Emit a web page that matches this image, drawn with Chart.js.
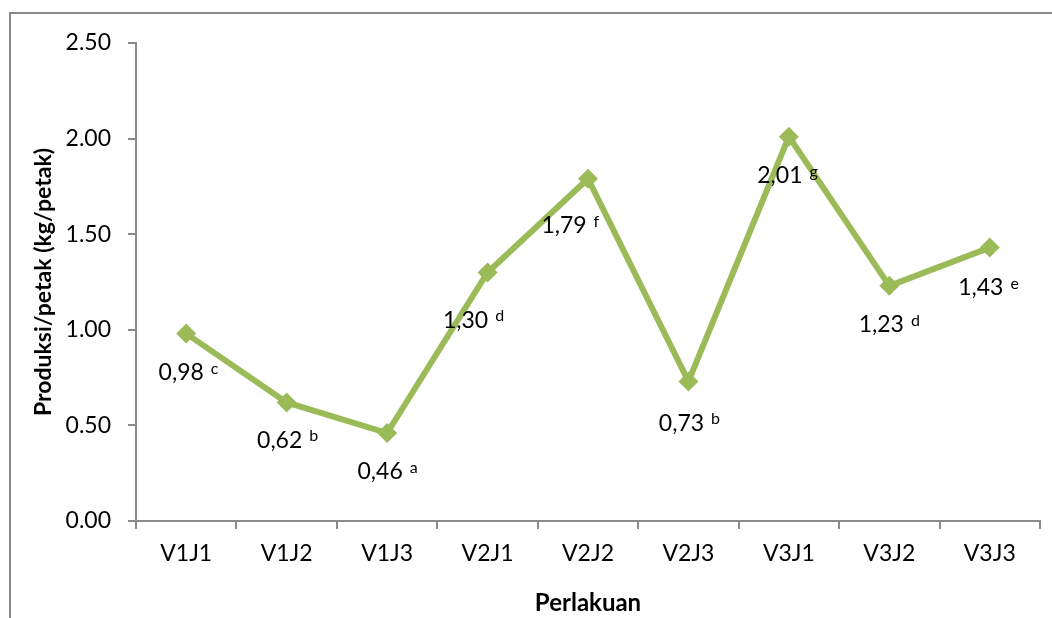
<!DOCTYPE html>
<html>
<head>
<meta charset="utf-8">
<script src="https://cdn.jsdelivr.net/npm/chart.js@4"></script>
<style>
  html, body { margin: 0; padding: 0; background: #fff; overflow: hidden; }
  #marco { position: absolute; left: 9px; top: 12px; width: 1200px; height: 800px;
           border-left: 2px solid #8a8a8a; border-top: 2px solid #8a8a8a; }
  #caja { position: absolute; left: 0; top: 0; width: 1052px; height: 618px; }
</style>
</head>
<body>
<div id="marco"></div>
<div id="caja"><canvas id="grafico"></canvas></div>
<script>
const perlakuan = ["V1J1", "V1J2", "V1J3", "V2J1", "V2J2", "V2J3", "V3J1", "V3J2", "V3J3"]
const produksi = [0.98, 0.62, 0.46, 1.30, 1.79, 0.73, 2.01, 1.23, 1.43]
const notasi = ["c", "b", "a", "d", "f", "b", "g", "d", "e"]

// donde va cada etiqueta respecto a su punto
const despX = [-5, -7, -7, -22, -24, -7, -9, -8, -9]
const despY = [39, 38, 39, 48, 47, 42, 39, 39, 40]

const fuente = "Lato, 'Open Sans', sans-serif"
const verde = "#9bbb59"
const gris = "#8a8a8a"

const etiquetas = {
    id: "etiquetas",
    afterDatasetsDraw(chart) {
        const ctx = chart.ctx
        const puntos = chart.getDatasetMeta(0).data
        ctx.save()
        ctx.fillStyle = "#000"
        puntos.forEach((p, i) => {
            let texto = produksi[i].toFixed(2).replace(".", ",")
            let x = p.x + despX[i]
            let y = p.y + despY[i]
            ctx.font = "23px " + fuente
            ctx.textAlign = "center"
            ctx.textBaseline = "middle"
            ctx.fillText(texto, x, y)
            let ancho = ctx.measureText(texto).width
            ctx.font = "16px " + fuente
            ctx.textAlign = "left"
            ctx.textBaseline = "alphabetic"
            ctx.fillText(notasi[i], x + ancho / 2 + 7, y + 1)
        })
        ctx.restore()
    }
}

let grafico = document.getElementById("grafico")

let miGrafico = new Chart(grafico, {
    type: "line",
    data: {
        labels: perlakuan,
        datasets: [{
            data: produksi,
            borderColor: verde,
            backgroundColor: verde,
            borderWidth: 6,
            pointStyle: "rectRot",
            pointRadius: 10,
            pointBorderWidth: 0,
            pointBackgroundColor: verde,
            tension: 0,
            fill: false
        }]
    },
    options: {
        responsive: true,
        maintainAspectRatio: false,
        animation: false,
        layout: { padding: { top: 43, right: 12, left: 0, bottom: 0 } },
        plugins: {
            legend: { display: false },
            tooltip: { enabled: false }
        },
        scales: {
            x: {
                offset: true,
                grid: { display: true, drawOnChartArea: false, drawTicks: true, tickLength: 8, color: gris, lineWidth: 2, offset: true },
                border: { display: true, color: gris, width: 2 },
                ticks: { color: "#000", font: { family: fuente, size: 23 }, padding: 11, maxRotation: 0 },
                title: { display: true, text: "Perlakuan", color: "#000",
                         font: { family: fuente, size: 24, weight: "bold" }, padding: { top: 7, bottom: 0 } },
                afterFit: (s) => { s.height = 97 }
            },
            y: {
                min: 0,
                max: 2.5,
                grid: { display: true, drawOnChartArea: false, drawTicks: true, tickLength: 8, color: gris, lineWidth: 2 },
                border: { display: true, color: gris, width: 2 },
                ticks: { stepSize: 0.5, color: "#000", font: { family: fuente, size: 23 }, padding: 17,
                         callback: (v) => v.toFixed(2) },
                title: { display: true, text: "Produksi/petak (kg/petak)", color: "#000",
                         font: { family: fuente, size: 23, weight: "bold" }, padding: { top: 30, bottom: 0 } },
                afterFit: (s) => { s.width = 136 }
            }
        }
    },
    plugins: [etiquetas]
})
</script>
</body>
</html>
